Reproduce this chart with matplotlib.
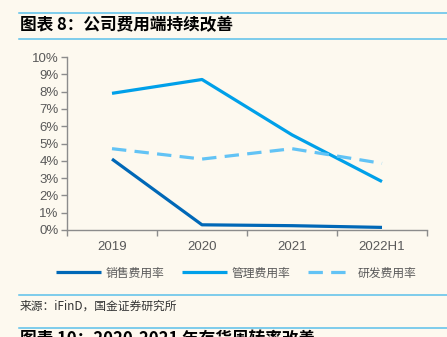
import numpy as np
import matplotlib
matplotlib.use("Agg")
import matplotlib.pyplot as plt
from matplotlib.lines import Line2D

plt.rcParams['font.family'] = ['Liberation Sans', 'Noto Sans CJK SC', 'DejaVu Sans']

# data
years = ['2019', '2020', '2021', '2022H1']
sales_rate = [4.1, 0.3, 0.25, 0.15]
admin_rate = [7.9, 8.7, 5.5, 2.8]
rd_rate = [4.7, 4.1, 4.7, 3.85]
series_names = ['销售费用率', '管理费用率', '研发费用率']

bg = '#fdf9ef'
gray = '#595959'
W, H = 447, 337

fig = plt.figure(figsize=(W / 100, H / 100), dpi=100, facecolor=bg)

def fx(px):
    return px / W

def fy(py):
    return 1 - py / H

ax = fig.add_axes([fx(67), fy(230), fx(427) - fx(67), fy(57) - fy(230)])
ax.set_facecolor(bg)

x = np.arange(len(years))
ax.plot(x, sales_rate, color='#0068b7', lw=2.3, label=series_names[0], solid_capstyle='butt')
ax.plot(x, admin_rate, color='#00a0e9', lw=2.3, label=series_names[1], solid_capstyle='butt')
ax.plot(x, rd_rate, color='#62c3f5', lw=2.3, dashes=(4.5, 2.6), label=series_names[2])

ax.set_xlim(-0.5, 3.5)
ax.set_ylim(0, 10)
ax.set_yticks(range(0, 11))
ax.set_yticklabels([f'{v}%' for v in range(0, 11)])
ax.set_xticks(x)
ax.set_xticklabels(years)
ax.set_xticks(np.arange(-0.5, 3.6, 1), minor=True)
ax.tick_params(axis='x', which='major', length=0, pad=8, labelsize=9.5, labelcolor=gray)
ax.tick_params(axis='x', which='minor', length=4, color='#8c8c8c', width=1)
ax.tick_params(axis='y', length=4, color='#8c8c8c', width=1, labelsize=9.5, labelcolor=gray, pad=2)

for s in ['top', 'right']:
    ax.spines[s].set_visible(False)
for s in ['left', 'bottom']:
    ax.spines[s].set_color('#8c8c8c')
    ax.spines[s].set_linewidth(1)

leg = fig.legend(loc='center', bbox_to_anchor=(fx(236), fy(273)), ncol=3, frameon=False,
                 handlelength=3.8, columnspacing=1.5, handletextpad=0.4,
                 prop={'family': ['Noto Sans CJK SC'], 'size': 8.5})
for t in leg.get_texts():
    t.set_color(gray)

# header / footer rules
rule = '#5bc0eb'
for py in [12.5, 38.5, 295, 328]:
    fig.add_artist(Line2D([fx(19), 1], [fy(py), fy(py)], color=rule, lw=1.1))

fig.text(fx(20), fy(25.5), '图表 8：公司费用端持续改善', fontsize=12, fontweight='bold',
         family=['Noto Sans CJK SC'], va='center', ha='left', color='black')
fig.text(fx(20), fy(306), '来源：iFinD，国金证券研究所', fontsize=8.5, va='center', ha='left',
         color='#333333', family=['Noto Sans CJK SC', 'Liberation Sans'])
fig.text(fx(20), fy(330), '图表 10：2020-2021 年存货周转率改善', fontsize=12, fontweight='bold',
         family=['Noto Sans CJK SC'], va='top', ha='left', color='black')

fig.savefig('out.png', dpi=100, facecolor=bg)
